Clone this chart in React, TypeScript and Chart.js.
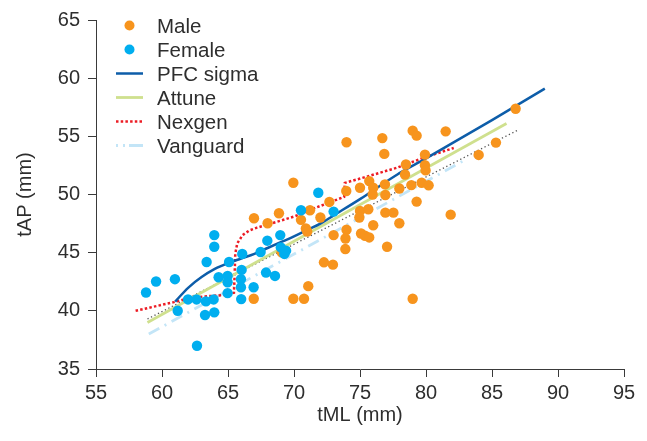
import React, { useEffect, useRef } from "react";
import { Chart, registerables } from "chart.js";

Chart.register(...registerables);

// ---- Data ----
const maleX = [66.97, 68.0, 68.86, 69.95, 70.53, 71.21, 72.0, 72.68, 70.9, 71.0, 71.08, 72.27, 72.95, 69.95, 70.76, 66.95, 73.98, 73.96, 73.98, 73.9, 73.89, 73.0, 75.0, 75.0, 74.95, 75.08, 75.38, 75.7, 75.63, 75.7, 76.0, 75.96, 76.0, 76.84, 76.69, 76.89, 76.92, 76.92, 77.53, 77.05, 77.98, 77.98, 78.48, 78.41, 78.89, 79.29, 78.99, 79.29, 79.92, 79.92, 79.97, 79.67, 80.2, 78.99, 81.87, 81.49, 83.99, 85.3, 86.79, 69.06];
const maleY = [47.96, 47.53, 48.39, 51.01, 47.82, 48.65, 48.02, 49.36, 47.08, 46.82, 42.12, 44.17, 43.97, 41.04, 41.04, 41.04, 54.49, 50.3, 46.97, 46.22, 45.31, 46.51, 50.58, 48.59, 48.02, 46.65, 46.45, 46.31, 48.73, 51.15, 50.58, 50.0, 47.36, 53.49, 54.85, 50.87, 49.96, 48.44, 48.44, 45.51, 47.53, 50.52, 52.58, 51.72, 50.81, 49.39, 55.49, 55.06, 53.43, 52.52, 52.07, 51.01, 50.79, 41.04, 48.27, 55.43, 53.4, 54.46, 57.37, 45.03];

const femaleX = [63.96, 63.96, 63.38, 59.55, 60.98, 58.79, 65.08, 66.08, 67.47, 67.98, 68.96, 69.0, 69.27, 69.4, 64.29, 64.97, 64.97, 66.03, 65.98, 65.98, 64.97, 66.94, 67.88, 68.56, 61.97, 62.62, 63.33, 63.91, 61.19, 63.26, 63.96, 66.0, 62.65, 71.84, 70.53, 73.0];
const femaleY = [46.51, 45.51, 44.2, 42.52, 42.72, 41.58, 44.2, 44.89, 45.06, 46.03, 46.51, 45.45, 44.89, 45.17, 42.89, 43.0, 42.46, 43.52, 42.72, 42.03, 41.52, 42.03, 43.29, 43.0, 40.98, 40.98, 40.81, 40.98, 40.01, 39.64, 39.87, 41.01, 37.0, 50.15, 48.65, 48.53];

const pfcX = [61, 62, 63, 64, 65, 66, 67, 68, 69, 70, 71, 72, 73, 75, 77.8, 80, 85, 89];
const pfcY = [40.8, 42.0, 42.9, 43.6, 44.1, 44.5, 44.9, 45.4, 45.9, 46.4, 46.95, 47.5, 48.2, 49.6, 51.7, 53.1, 56.4, 59.1];

const attuneX = [58.9, 86.1];
const attuneY = [39.0, 56.1];

const nexgenX = [58.0, 60.9, 62.1, 63.4, 64.6, 65.45, 65.5, 65.55, 65.7, 66.1, 66.6, 67.2, 68.7, 70.0, 71.5, 73.0, 73.8, 73.85, 75.25, 77.8, 79.8, 82.1];
const nexgenY = [40.0, 40.75, 41.1, 41.25, 41.35, 41.55, 43.0, 44.9, 45.8, 46.5, 46.9, 47.15, 47.65, 48.1, 48.8, 49.45, 49.8, 51.0, 51.45, 52.3, 53.15, 54.0];

const vanguardX = [59.0, 83.0];
const vanguardY = [38.0, 53.0];

const overallX = [58.9, 86.9];
const overallY = [39.3, 55.5];

const xTicks = [55, 60, 65, 70, 75, 80, 85, 90, 95];
const yTicks = [35, 40, 45, 50, 55, 60, 65];
const legendLabels = ["Male", "Female", "PFC sigma", "Attune", "Nexgen", "Vanguard"];

const pts = (xs: number[], ys: number[]) => xs.map((x, i) => ({ x, y: ys[i] }));

const ORANGE = "#f7941d";
const CYAN = "#00aeef";
const PFC = "#0d5da9";
const GREEN = "#cfe08e";
const RED = "#ec1c24";
const LIGHTBLUE = "#c3e5f7";
const TEXT = "#2e2e2e";
const AXIS = "#3a3a3a";
const FONT = "'Liberation Sans', Arial, sans-serif";

const legendPlugin = {
  id: "customLegend",
  afterDraw(chart: any) {
    const ctx = chart.ctx;
    ctx.save();
    ctx.font = `20.5px ${FONT}`;
    ctx.fillStyle = TEXT;
    ctx.textBaseline = "alphabetic";
    const textX = 157;
    const rows = [25.5, 49.5, 73.5, 97.5, 121.5, 145.5];
    legendLabels.forEach((label, i) => {
      const cy = rows[i];
      ctx.fillStyle = TEXT;
      ctx.fillText(label, textX, cy + 7);
      ctx.save();
      if (i < 2) {
        ctx.fillStyle = i === 0 ? ORANGE : CYAN;
        ctx.beginPath();
        ctx.arc(129.5, cy, 5, 0, Math.PI * 2);
        ctx.fill();
      } else {
        const styles = [
          { c: PFC, w: 2.5, d: [] as number[] },
          { c: GREEN, w: 2.8, d: [] as number[] },
          { c: RED, w: 2.5, d: [2.5, 2.2] },
          { c: LIGHTBLUE, w: 2.8, d: [2, 5, 2, 4, 16] },
        ];
        const s = styles[i - 2];
        ctx.strokeStyle = s.c;
        ctx.lineWidth = s.w;
        ctx.setLineDash(s.d);
        ctx.beginPath();
        ctx.moveTo(116, cy);
        ctx.lineTo(143, cy);
        ctx.stroke();
      }
      ctx.restore();
    });
    ctx.restore();
  },
};

export default function App() {
  const ref = useRef<HTMLCanvasElement | null>(null);
  useEffect(() => {
    if (!ref.current) return;
    const lineDs = (label: string, data: any, color: string, width: number, dash: number[], tension = 0) => ({
      label,
      data,
      showLine: true,
      borderColor: color,
      backgroundColor: color,
      borderWidth: width,
      borderDash: dash,
      pointRadius: 0,
      pointHoverRadius: 0,
      tension,
      fill: false,
    });
    const chart = new Chart(ref.current, {
      type: "scatter",
      data: {
        datasets: [
          { label: "Female", data: pts(femaleX, femaleY), backgroundColor: CYAN, borderWidth: 0, pointRadius: 5.2 },
          { label: "Male", data: pts(maleX, maleY), backgroundColor: ORANGE, borderWidth: 0, pointRadius: 5.2 },
          { ...lineDs("PFC sigma", pts(pfcX, pfcY), PFC, 2.5, [], 0.4), cubicInterpolationMode: "monotone" },
          lineDs("Attune", pts(attuneX, attuneY), GREEN, 2.8, []),
          lineDs("Nexgen", pts(nexgenX, nexgenY), RED, 2.5, [2.5, 2.2]),
          lineDs("Vanguard", pts(vanguardX, vanguardY), LIGHTBLUE, 2.8, [12, 6, 2, 6]),
          lineDs("Overall", pts(overallX, overallY), "#555555", 1.3, [1.3, 2.6]),
        ] as any,
      },
      options: {
        responsive: false,
        animation: false,
        layout: { padding: { left: 0, right: 23, top: 18, bottom: 0 } },
        plugins: { legend: { display: false }, tooltip: { enabled: false } },
        scales: {
          x: {
            type: "linear",
            min: 55,
            max: 95,
            afterBuildTicks: (s: any) => {
              s.ticks = xTicks.map((v) => ({ value: v }));
            },
            afterFit: (s: any) => {
              s.height = 72;
            },
            ticks: { color: TEXT, font: { family: FONT, size: 20 }, padding: 4, maxRotation: 0, autoSkip: false },
            grid: { drawOnChartArea: false, drawTicks: true, tickLength: 8, color: AXIS, lineWidth: 1 },
            border: { display: true, color: AXIS, width: 1 },
            title: { display: true, text: "tML (mm)", color: TEXT, font: { family: FONT, size: 20 }, padding: { top: 0, bottom: 14 } },
          },
          y: {
            type: "linear",
            min: 35,
            max: 65,
            afterBuildTicks: (s: any) => {
              s.ticks = yTicks.map((v) => ({ value: v }));
            },
            afterFit: (s: any) => {
              s.width = 96;
            },
            ticks: { color: TEXT, font: { family: FONT, size: 20 }, padding: 8, autoSkip: false },
            grid: { drawOnChartArea: false, drawTicks: true, tickLength: 8, color: AXIS, lineWidth: 1 },
            border: { display: true, color: AXIS, width: 1 },
            title: { display: true, text: "tAP (mm)", color: TEXT, font: { family: FONT, size: 20 }, padding: { top: 13, bottom: 0 } },
          },
        },
      } as any,
      plugins: [legendPlugin],
    });
    return () => chart.destroy();
  }, []);
  return (
    <div style={{ position: "fixed", left: 0, top: 0, width: 647, height: 441, background: "#fff" }}>
      <canvas ref={ref} width={647} height={441} style={{ display: "block" }} />
    </div>
  );
}
